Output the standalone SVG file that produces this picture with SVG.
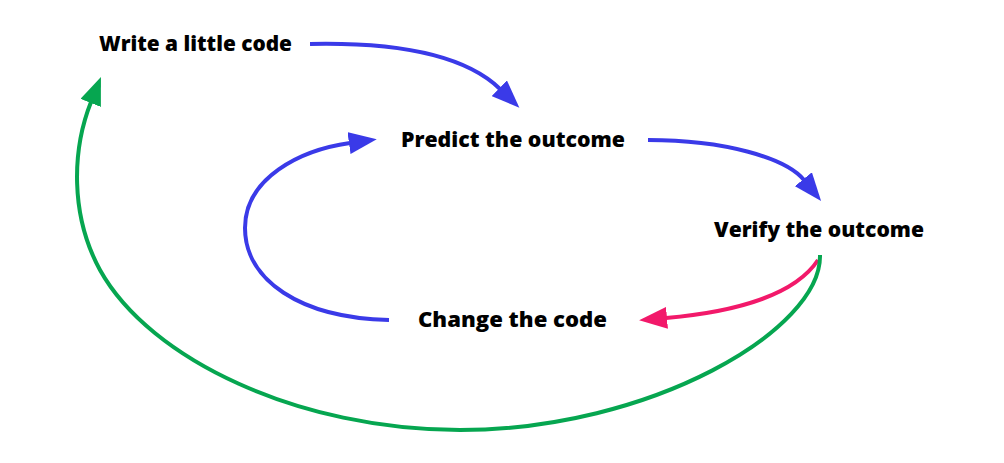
<svg xmlns="http://www.w3.org/2000/svg" width="1004" height="463" viewBox="0 0 1004 463">
<defs>
<style>
.lbl{font-family:"Open Sans","Liberation Sans",sans-serif;font-weight:800;font-size:21px;fill:#000}
.c{fill:none;stroke-width:4;stroke-linecap:butt}
.blue{stroke:#3a3ae8}
.green{stroke:#06a650}
.pink{stroke:#f2196a}
</style>
<marker id="ab" viewBox="0 0 28 22" markerUnits="userSpaceOnUse" markerWidth="28" markerHeight="22" refX="1" refY="11" orient="auto"><path d="M0,0 L28,11 L0,22 z" fill="#3a3ae8"/></marker>
<marker id="ag" viewBox="0 0 28 22" markerUnits="userSpaceOnUse" markerWidth="28" markerHeight="22" refX="1" refY="11" orient="auto"><path d="M0,0 L28,11 L0,22 z" fill="#06a650"/></marker>
<marker id="ap" viewBox="0 0 28 22" markerUnits="userSpaceOnUse" markerWidth="28" markerHeight="22" refX="1" refY="11" orient="auto"><path d="M0,0 L28,11 L0,22 z" fill="#f2196a"/></marker>
</defs>
<rect width="1004" height="463" fill="#fff"/>
<g id="connectors">
<path class="c blue" d="M310,44 C 405,42 468,58 500,89" marker-end="url(#ab)"/>
<path class="c blue" d="M648,140 C 725,140 786,158 804,180" marker-end="url(#ab)"/>
<path class="c blue" d="M389,320 C 300,318 245,280 245,228 C 245,178 300,150 350,143" marker-end="url(#ab)"/>
<path class="c pink" d="M818,260 C 795,295 735,312 666,318" marker-end="url(#ap)"/>
<path class="c green" d="M820,255 C 822,330 650,430 460,430 C 300,430 150,360 100,270 C 70,215 72,150 91,102" marker-end="url(#ag)"/>
</g>
<g id="node-write"><text class="lbl" x="99" y="51" textLength="193" lengthAdjust="spacingAndGlyphs">Write a little code</text></g>
<g id="node-predict"><text class="lbl" x="401" y="146.5" textLength="224" lengthAdjust="spacingAndGlyphs">Predict the outcome</text></g>
<g id="node-verify"><text class="lbl" x="714" y="236.5" textLength="210" lengthAdjust="spacingAndGlyphs">Verify the outcome</text></g>
<g id="node-change"><text class="lbl" x="418" y="326.5" textLength="189" lengthAdjust="spacingAndGlyphs">Change the code</text></g>
</svg>
